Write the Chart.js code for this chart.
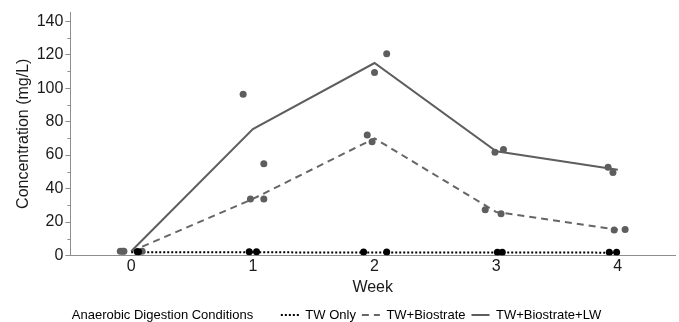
<!DOCTYPE html>
<html>
<head>
<meta charset="utf-8">
<script src="https://cdn.jsdelivr.net/npm/chart.js@4.4.1/dist/chart.umd.min.js"></script>
<style>
  html, body { margin: 0; padding: 0; background: #fff; }
  canvas { display: block; }
</style>
</head>
<body>
<canvas id="myChart" width="679" height="322"></canvas>
<script>
// week positions of the treatment means
const weeks = [0, 1, 2, 3, 4];
const weekTicks = [0, 1, 2, 3, 4];
const concTicks = [0, 20, 40, 60, 80, 100, 120, 140];
const concMinorTicks = [10, 30, 50, 70, 90, 110, 130];

// mean lines (mg/L)
const twOnlyMean = [1.9, 1.9, 1.8, 1.8, 1.7];
const bioMean = [2.5, 33.8, 70, 26, 15.4];
const bioLwMean = [2.5, 75.5, 115, 62.3, 51.2];

// replicate samples (jittered week, mg/L)
const twOnlyWeek = [0.05, 0.06, 0.97, 1.03, 1.91, 2.10, 3.01, 3.05, 3.93, 3.99];
const twOnlyConc = [2.3, 2.3, 2.2, 2.2, 2.1, 2.1, 2.0, 2.0, 1.9, 1.9];
const bioWeek = [-0.07, 0.09, 0.98, 1.09, 1.94, 1.98, 2.91, 3.04, 3.97, 4.06];
const bioConc = [2.5, 2.5, 33.8, 33.8, 72, 68, 27.4, 25, 15.3, 15.5];
const bioLwWeek = [-0.09, -0.06, 0.92, 1.09, 2.00, 2.10, 2.99, 3.06, 3.92, 3.96];
const bioLwConc = [2.5, 2.5, 96.3, 54.8, 109.3, 120.5, 61.7, 63.3, 52.8, 49.6];

const legendTitle = 'Anaerobic Digestion Conditions';

const pts = (xs, ys) => xs.map((x, i) => ({ x: x, y: ys[i] }));
const mean = ys => weeks.map((w, i) => ({ x: w, y: ys[i] }));

Chart.defaults.font.family = '"Liberation Sans", Arial, sans-serif';
Chart.defaults.color = '#1a1a1a';

const axisGray = '#8e8e8e';

// short minor ticks on the y axis
const minorTicks = {
  id: 'minorTicks',
  afterDraw(chart) {
    const y = chart.scales.y;
    const ctx = chart.ctx;
    ctx.save();
    ctx.strokeStyle = axisGray;
    ctx.lineWidth = 1;
    concMinorTicks.forEach(v => {
      const py = Math.round(y.getPixelForValue(v)) + 0.5;
      ctx.beginPath();
      ctx.moveTo(y.right - 3, py);
      ctx.lineTo(y.right, py);
      ctx.stroke();
    });
    ctx.restore();
  }
};

const ctx = document.getElementById('myChart');

new Chart(ctx, {
  type: 'scatter',
  data: {
    datasets: [
      { label: 'TW Only pts', data: pts(twOnlyWeek, twOnlyConc), backgroundColor: '#000', borderColor: '#000', pointRadius: 3.5, borderWidth: 0, showLine: false },
      { label: 'TW+Biostrate pts', data: pts(bioWeek, bioConc), backgroundColor: '#5e5e5e', borderColor: '#5e5e5e', pointRadius: 3.5, borderWidth: 0, showLine: false },
      { label: 'TW+Biostrate+LW pts', data: pts(bioLwWeek, bioLwConc), backgroundColor: '#5e5e5e', borderColor: '#5e5e5e', pointRadius: 3.5, borderWidth: 0, showLine: false },
      { label: 'TW Only', data: mean(twOnlyMean), showLine: true, borderColor: '#000', borderWidth: 2, borderDash: [2, 2], pointRadius: 0, tension: 0 },
      { label: 'TW+Biostrate', data: mean(bioMean), showLine: true, borderColor: '#666', borderWidth: 2, borderDash: [7, 5], pointRadius: 0, tension: 0 },
      { label: 'TW+Biostrate+LW', data: mean(bioLwMean), showLine: true, borderColor: '#5e5e5e', borderWidth: 2, pointRadius: 0, tension: 0 }
    ]
  },
  options: {
    responsive: false,
    animation: false,
    devicePixelRatio: 1,
    layout: { padding: { top: 12, left: 0, right: 0, bottom: -9.5 } },
    plugins: {
      tooltip: { enabled: false },
      legend: {
        position: 'bottom',
        labels: {
          usePointStyle: true,
          pointStyleWidth: 18,
          padding: 6,
          font: { size: 13 },
          color: '#1a1a1a',
          generateLabels(chart) {
            const items = [{ text: legendTitle + '      ', pointStyle: 'line', strokeStyle: 'rgba(0,0,0,0)', fillStyle: 'rgba(0,0,0,0)', lineWidth: 1 }];
            chart.data.datasets.slice(3).forEach(ds => {
              items.push({
                text: ds.label,
                pointStyle: 'line',
                strokeStyle: ds.borderColor,
                fillStyle: ds.borderColor,
                lineWidth: 2,
                lineDash: ds.borderDash || []
              });
            });
            // blank spacer keeps the row a little left of centre
            items.push({ text: '', pointStyle: 'line', strokeStyle: 'rgba(0,0,0,0)', fillStyle: 'rgba(0,0,0,0)', lineWidth: 1 });
            return items;
          }
        }
      }
    },
    scales: {
      x: {
        type: 'linear',
        min: -0.5,
        max: 4.47,
        afterBuildTicks: scale => { scale.ticks = weekTicks.map(v => ({ value: v })); },
        grid: { display: true, drawOnChartArea: false, drawTicks: false },
        border: { color: axisGray, width: 1 },
        ticks: { padding: 1.5, font: { size: 16 }, color: '#1a1a1a' },
        title: { display: true, text: 'Week', font: { size: 16 }, color: '#1a1a1a', padding: { top: 0, bottom: 5.6 } }
      },
      y: {
        min: 0,
        max: 145.5,
        afterBuildTicks: scale => { scale.ticks = concTicks.map(v => ({ value: v })); },
        grid: { drawOnChartArea: false, drawTicks: true, tickLength: 5, tickColor: axisGray },
        border: { color: axisGray, width: 1 },
        ticks: { padding: 2, font: { size: 16 }, color: '#1a1a1a' },
        title: { display: true, text: 'Concentration (mg/L)', font: { size: 16 }, color: '#1a1a1a', padding: { top: 13.5, bottom: 2 } }
      }
    }
  },
  plugins: [minorTicks]
});
</script>
</body>
</html>
